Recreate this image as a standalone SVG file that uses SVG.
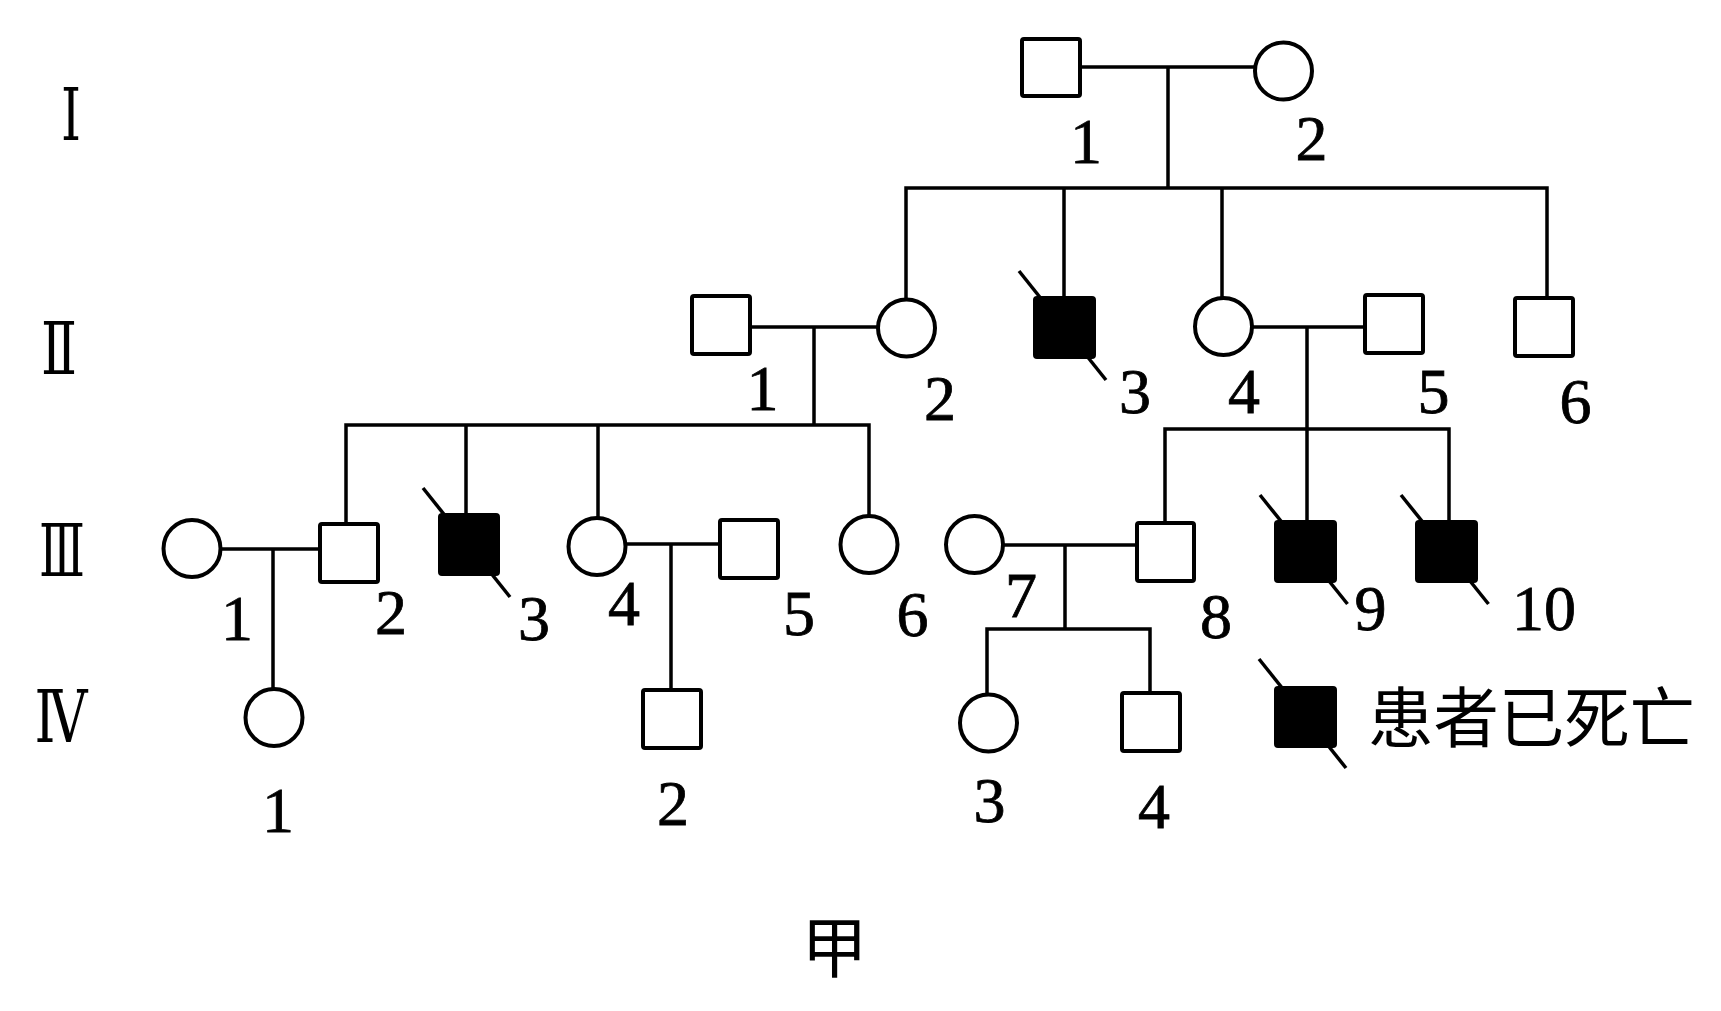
<svg xmlns="http://www.w3.org/2000/svg" width="1721" height="1011" viewBox="0 0 1721 1011">
<style>
.m{fill:#fff;stroke:#000;stroke-width:4}
.a{fill:#000;stroke:#000;stroke-width:4}
.f{fill:#fff;stroke:#000;stroke-width:4}
.c{fill:none;stroke:#000;stroke-width:3.5;stroke-linecap:square}
.s{stroke:#000;stroke-width:3.5}
.n{font-family:"Liberation Serif","DejaVu Serif",serif;font-size:64px;fill:#000;stroke:#000;stroke-width:0.8;text-anchor:middle}
.r{font-family:"Liberation Serif","DejaVu Serif","Noto Sans CJK SC",serif;font-size:72px;fill:#000;text-anchor:middle}
.z{font-family:"Noto Sans CJK SC",sans-serif;font-size:66px;fill:#000}
</style>
<rect width="1721" height="1011" fill="#fff"/>
<g id="generations">
<text class="r" x="71" y="140" textLength="20" lengthAdjust="spacingAndGlyphs">Ⅰ</text>
<text class="r" x="59" y="374" textLength="36" lengthAdjust="spacingAndGlyphs">Ⅱ</text>
<text class="r" x="62" y="576" textLength="46" lengthAdjust="spacingAndGlyphs">Ⅲ</text>
<text class="r" x="61" y="742" textLength="53" lengthAdjust="spacingAndGlyphs">Ⅳ</text>
</g>
<g id="connectors">
<path class="c" d="M1082 67H1253M1168 67V188M906 188H1547M906 188V297M1064 188V296M1222 188V296M1547 188V296"/>
<path class="c" d="M752 327H876M814 327V425M346 425H869M346 425V522M466 425V513M598 425V516M869 425V514"/>
<path class="c" d="M1254 327H1363M1307 327V520M1165 429H1449M1165 429V521M1449 429V520"/>
<path class="c" d="M222 549H318M273 549V687M627 544H718M671 544V688M1005 545H1135M1065 545V629M987 629H1150M987 629V693M1150 629V691"/>
</g>
<g id="I-1"><rect class="m" x="1022" y="39" width="58" height="57" rx="2"/><text class="n" x="1086" y="163">1</text></g>
<g id="I-2"><circle class="f" cx="1283.5" cy="71" r="28.5"/><text class="n" x="1311.5" y="160">2</text></g>
<g id="II-1"><rect class="m" x="692" y="296" width="58" height="58" rx="2"/><text class="n" x="762.5" y="410">1</text></g>
<g id="II-2"><circle class="f" cx="906.5" cy="328" r="28.5"/><text class="n" x="940" y="420">2</text></g>
<g id="II-3"><rect class="a" x="1035" y="298" width="59" height="59" rx="2"/><line class="s" x1="1019" y1="271" x2="1106" y2="380"/><text class="n" x="1135" y="413">3</text></g>
<g id="II-4"><circle class="f" cx="1223.5" cy="326.5" r="28.5"/><text class="n" x="1244" y="413">4</text></g>
<g id="II-5"><rect class="m" x="1365" y="295" width="58" height="58" rx="2"/><text class="n" x="1433.5" y="413">5</text></g>
<g id="II-6"><rect class="m" x="1515" y="298" width="58" height="58" rx="2"/><text class="n" x="1575.5" y="423">6</text></g>
<g id="III-1"><circle class="f" cx="192" cy="548.5" r="28.5"/><text class="n" x="237" y="640">1</text></g>
<g id="III-2"><rect class="m" x="320" y="524" width="58" height="58" rx="2"/><text class="n" x="391" y="634">2</text></g>
<g id="III-3"><rect class="a" x="440" y="515" width="58" height="59" rx="2"/><line class="s" x1="423" y1="488" x2="510" y2="597"/><text class="n" x="534" y="640">3</text></g>
<g id="III-4"><circle class="f" cx="597" cy="546.5" r="28.5"/><text class="n" x="624" y="625">4</text></g>
<g id="III-5"><rect class="m" x="720" y="520" width="58" height="58" rx="2"/><text class="n" x="799" y="635">5</text></g>
<g id="III-6"><circle class="f" cx="869" cy="544.5" r="28.5"/><text class="n" x="912.5" y="636">6</text></g>
<g id="III-7"><circle class="f" cx="974.5" cy="544.5" r="28.5"/><text class="n" x="1021" y="617">7</text></g>
<g id="III-8"><rect class="m" x="1137" y="523" width="57" height="58" rx="2"/><text class="n" x="1216" y="638">8</text></g>
<g id="III-9"><rect class="a" x="1276" y="522" width="59" height="59" rx="2"/><line class="s" x1="1260" y1="495" x2="1347.5" y2="604"/><text class="n" x="1370.5" y="630">9</text></g>
<g id="III-10"><rect class="a" x="1417" y="522" width="59" height="59" rx="2"/><line class="s" x1="1401" y1="495" x2="1488.5" y2="604"/><text class="n" x="1544" y="630">10</text></g>
<g id="IV-1"><circle class="f" cx="274" cy="717.5" r="28.5"/><text class="n" x="278" y="832">1</text></g>
<g id="IV-2"><rect class="m" x="643" y="690" width="58" height="58" rx="2"/><text class="n" x="673" y="825">2</text></g>
<g id="IV-3"><circle class="f" cx="988.5" cy="723" r="28.5"/><text class="n" x="989.5" y="822">3</text></g>
<g id="IV-4"><rect class="m" x="1122" y="693" width="58" height="58" rx="2"/><text class="n" x="1154" y="828">4</text></g>
<g id="legend"><rect class="a" x="1276" y="688" width="59" height="58" rx="2"/><line class="s" x1="1259" y1="659" x2="1346" y2="768"/><text class="z" x="1368" y="742" textLength="327" lengthAdjust="spacingAndGlyphs">患者已死亡</text></g>
<g id="caption"><text class="z" x="834.5" y="972" text-anchor="middle">甲</text></g>
</svg>
